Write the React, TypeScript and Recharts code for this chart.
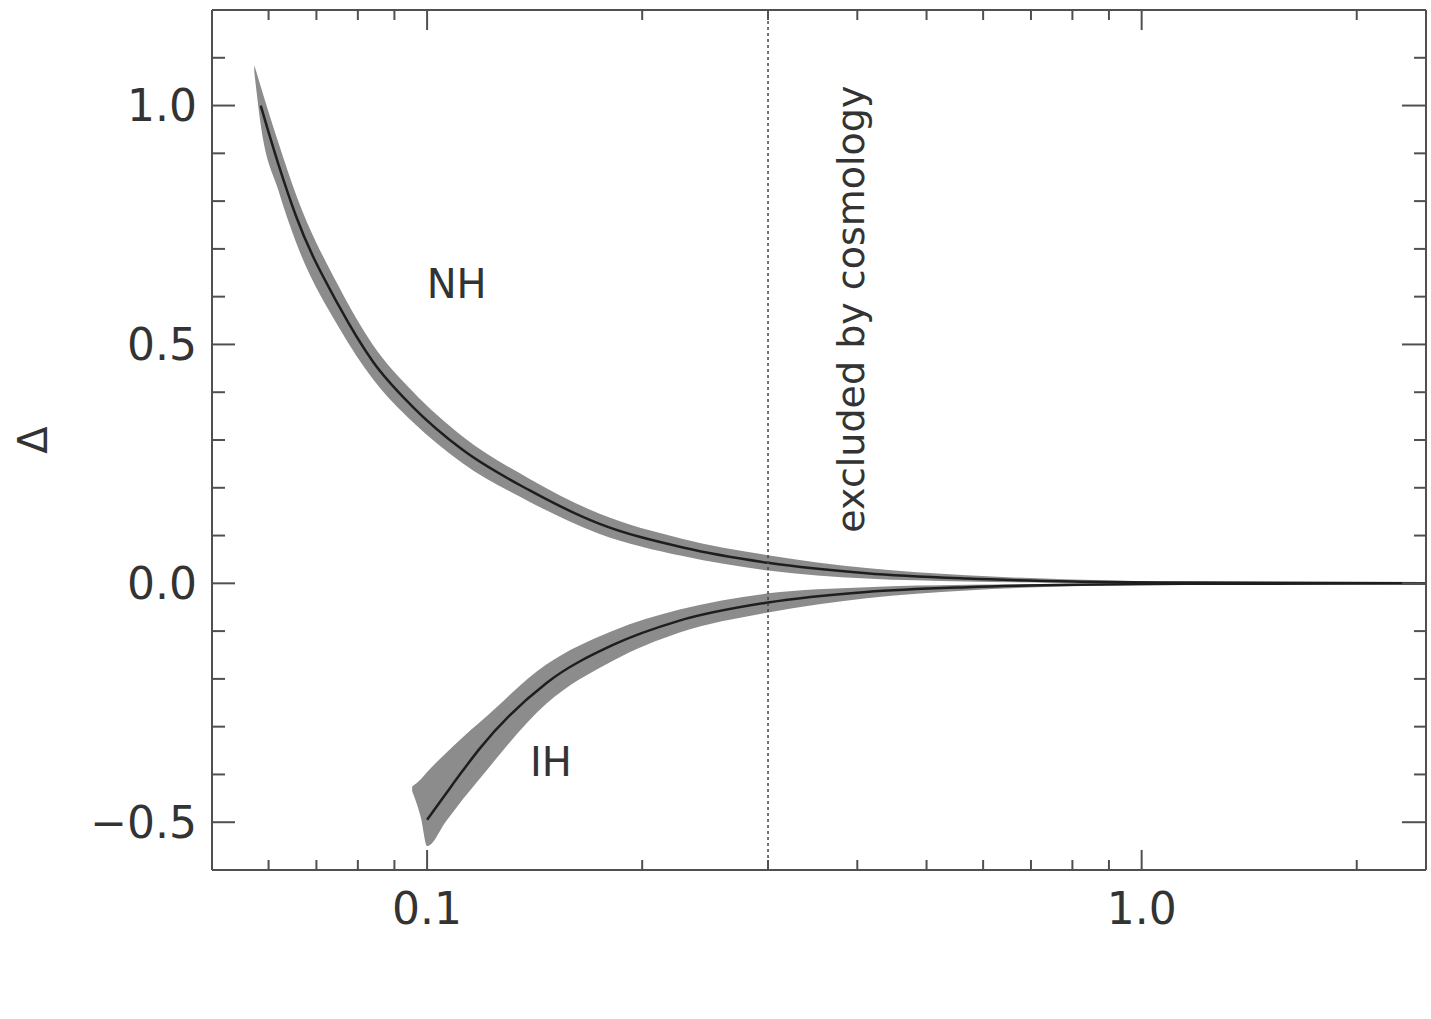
import { ComposedChart, Area, Line, XAxis, YAxis, ReferenceLine, ReferenceDot } from 'recharts'

// normal hierarchy: sum of masses, central curve and band edges
const nhSigma = [0.0573, 0.0585, 0.062, 0.0655, 0.0753, 0.0839, 0.0954, 0.112, 0.139, 0.174, 0.228, 0.3, 0.412, 0.569, 0.8, 1.2, 2.5]
const nhMid = [null, 1.0, 0.875, 0.77, 0.58, 0.465, 0.37, 0.28, 0.195, 0.125, 0.075, 0.043, 0.021, 0.01, 0.004, 0.0015, 0]
const nhLow = [1.07, 0.96, 0.82, 0.715, 0.535, 0.428, 0.338, 0.252, 0.171, 0.104, 0.057, 0.027, 0.01, 0.004, 0.001, 0, 0]
const nhHigh = [1.085, 1.04, 0.92, 0.815, 0.62, 0.5, 0.402, 0.308, 0.219, 0.146, 0.093, 0.059, 0.032, 0.017, 0.008, 0.003, 0]

// inverted hierarchy
const ihSigma = [0.0953, 0.098, 0.1, 0.1063, 0.1122, 0.1183, 0.1468, 0.182, 0.2256, 0.3, 0.412, 0.569, 0.8, 1.2, 2.5]
const ihMid = [null, null, -0.495, -0.44, -0.392, -0.347, -0.209, -0.129, -0.078, -0.04, -0.018, -0.008, -0.003, -0.001, 0]
const ihLow = [-0.435, -0.49, -0.55, -0.498, -0.452, -0.41, -0.252, -0.162, -0.103, -0.061, -0.031, -0.015, -0.006, -0.002, 0]
const ihHigh = [-0.425, -0.41, -0.395, -0.355, -0.322, -0.292, -0.17, -0.099, -0.055, -0.021, -0.008, -0.003, -0.001, 0, 0]

const xTicks = [0.06, 0.07, 0.08, 0.09, 0.1, 0.2, 0.3, 0.4, 0.5, 0.6, 0.7, 0.8, 0.9, 1, 2]
const xMajor = [0.1, 1]
const xMajorLabels = ['0.1', '1.0']
const yTicks = [-0.6, -0.5, -0.4, -0.3, -0.2, -0.1, 0, 0.1, 0.2, 0.3, 0.4, 0.5, 0.6, 0.7, 0.8, 0.9, 1.0, 1.1, 1.2]
const yMajor = [-0.5, 0, 0.5, 1.0]
const yMajorLabels = ['\u22120.5', '0.0', '0.5', '1.0']

const cosmoBound = 0.3

const FONT = '"DejaVu Sans", sans-serif'
const INK = '#333'
const FRAME = '#505050'

// one table keyed by sigma; a series is null where it has no point
const rowMap = new Map<number, any>()
const rowAt = (s: number) => {
  if (!rowMap.has(s)) rowMap.set(s, { s, nh: null, nhBand: null, ih: null, ihBand: null })
  return rowMap.get(s)
}
nhSigma.forEach((s, i) => {
  const r = rowAt(s)
  r.nh = nhMid[i]
  r.nhBand = [nhLow[i], nhHigh[i]]
})
ihSigma.forEach((s, i) => {
  const r = rowAt(s)
  r.ih = ihMid[i]
  r.ihBand = [ihLow[i], ihHigh[i]]
})
const rows = [...rowMap.values()].sort((a, b) => a.s - b.s)

const isYMajor = (v: number) => yMajor.some((m) => Math.abs(m - v) < 1e-9)
const isXMajor = (v: number) => xMajor.some((m) => Math.abs(m - v) < 1e-9)

function LeftTick({ x, y, payload }: any) {
  const v = payload.value
  const idx = yMajor.findIndex((m) => Math.abs(m - v) < 1e-9)
  return (
    <g>
      <line x1={x} x2={x + (idx >= 0 ? 23 : 13)} y1={y} y2={y} stroke={FRAME} strokeWidth={2} />
      {idx >= 0 && (
        <text x={x - 15} y={y} textAnchor="end" dominantBaseline="central" fontFamily={FONT} fontSize={44} fill={INK}>
          {yMajorLabels[idx]}
        </text>
      )}
    </g>
  )
}

function RightTick({ x, y, payload }: any) {
  const len = isYMajor(payload.value) ? 24 : 12
  return <line x1={x} x2={x - len} y1={y} y2={y} stroke={FRAME} strokeWidth={2} />
}

function TopTick({ x, y, payload }: any) {
  const len = isXMajor(payload.value) ? 20 : 10
  return <line x1={x} x2={x} y1={y} y2={y + len} stroke={FRAME} strokeWidth={2} />
}

function BottomTick({ x, y, payload }: any) {
  const idx = xMajor.findIndex((m) => Math.abs(m - payload.value) < 1e-9)
  return (
    <g>
      <line x1={x} x2={x} y1={y} y2={y - (idx >= 0 ? 20 : 10)} stroke={FRAME} strokeWidth={2} />
      {idx >= 0 && (
        <text x={x} y={y + 38} textAnchor="middle" dominantBaseline="central" fontFamily={FONT} fontSize={44} fill={INK}>
          {xMajorLabels[idx]}
        </text>
      )}
    </g>
  )
}

function DeltaLabel({ viewBox }: any) {
  const cx = viewBox.x + 33
  const cy = viewBox.y + viewBox.height / 2
  return (
    <text x={cx} y={cy} transform={`rotate(-90, ${cx}, ${cy})`} textAnchor="middle" dominantBaseline="central"
      fontFamily={FONT} fontSize={40} fill={INK}>
      Δ
    </text>
  )
}

const textShape = (label: string, rotate: boolean, size: number) => (props: any) => {
  const { cx, cy } = props
  return (
    <text x={cx} y={cy} transform={rotate ? `rotate(-90, ${cx}, ${cy})` : undefined} textAnchor="middle"
      dominantBaseline="central" fontFamily={FONT} fontSize={size} fill={INK}>
      {label}
    </text>
  )
}

export default function App() {
  return (
    <div style={{ position: 'absolute', left: 0, top: 0, width: 1431, height: 1019, background: '#fff' }}>
      <ComposedChart width={1431} height={1019} data={rows} margin={{ top: 0, right: 0, bottom: 89, left: 0 }}>
        <XAxis xAxisId="top" orientation="top" dataKey="s" type="number" scale="log" domain={[0.05, 2.5]}
          allowDataOverflow ticks={xTicks} interval={0} height={10} tickSize={0} tickMargin={0} tickLine={false}
          tick={<TopTick />} axisLine={{ stroke: FRAME, strokeWidth: 2 }} />
        <XAxis xAxisId="bottom" orientation="bottom" dataKey="s" type="number" scale="log" domain={[0.05, 2.5]}
          allowDataOverflow ticks={xTicks} interval={0} height={60} tickSize={0} tickMargin={0} tickLine={false}
          tick={<BottomTick />} axisLine={{ stroke: FRAME, strokeWidth: 2 }} />
        <YAxis yAxisId="left" type="number" domain={[-0.6, 1.2]} allowDataOverflow ticks={yTicks} interval={0}
          width={212} tickSize={0} tickMargin={0} tickLine={false} tick={<LeftTick />}
          axisLine={{ stroke: FRAME, strokeWidth: 2 }} label={<DeltaLabel />} />
        <YAxis yAxisId="right" orientation="right" type="number" domain={[-0.6, 1.2]} allowDataOverflow
          ticks={yTicks} interval={0} width={5} tickSize={0} tickMargin={0} tickLine={false} tick={<RightTick />}
          axisLine={{ stroke: FRAME, strokeWidth: 2 }} />

        <Area xAxisId="bottom" yAxisId="left" dataKey="nhBand" type="monotone" fill="#8c8c8c" fillOpacity={1}
          stroke="none" connectNulls isAnimationActive={false} />
        <Area xAxisId="bottom" yAxisId="left" dataKey="ihBand" type="monotone" fill="#8c8c8c" fillOpacity={1}
          stroke="none" connectNulls isAnimationActive={false} />
        <Line xAxisId="bottom" yAxisId="left" dataKey="nh" type="monotone" stroke="#1e1e1e" strokeWidth={2.5}
          dot={false} connectNulls isAnimationActive={false} />
        <Line xAxisId="bottom" yAxisId="left" dataKey="ih" type="monotone" stroke="#1e1e1e" strokeWidth={2.5}
          dot={false} connectNulls isAnimationActive={false} />

        <ReferenceLine xAxisId="bottom" yAxisId="left" x={cosmoBound} stroke="#444" strokeWidth={1.5}
          strokeDasharray="3 3" />

        <ReferenceDot xAxisId="bottom" yAxisId="left" x={0.11} y={0.626} r={0} shape={textShape('NH', false, 40)} />
        <ReferenceDot xAxisId="bottom" yAxisId="left" x={0.149} y={-0.374} r={0} shape={textShape('IH', false, 40)} />
        <ReferenceDot xAxisId="bottom" yAxisId="left" x={0.392} y={0.574} r={0}
          shape={textShape('excluded by cosmology', true, 38)} />
      </ComposedChart>
    </div>
  )
}
